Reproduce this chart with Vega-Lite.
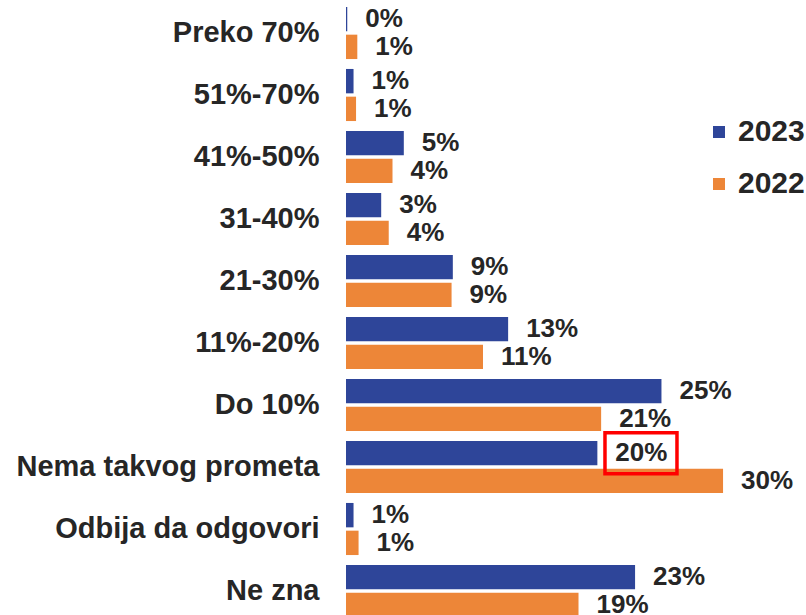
{
  "$schema": "https://vega.github.io/schema/vega-lite/v6.json",
  "autosize": {"type": "none"},
  "padding": {"top": 2, "left": 346, "right": 0, "bottom": 0},
  "width": 460,
  "height": 620,
  "background": "white",
  "config": {
    "view": {"stroke": null},
    "font": "Liberation Sans"
  },
  "data": {
    "values": [
      {"cat": "Preko 70%", "year": "2023", "value": 0.1, "label": "0%"},
      {"cat": "Preko 70%", "year": "2022", "value": 0.9, "label": "1%"},
      {"cat": "51%-70%", "year": "2023", "value": 0.6, "label": "1%"},
      {"cat": "51%-70%", "year": "2022", "value": 0.8, "label": "1%"},
      {"cat": "41%-50%", "year": "2023", "value": 4.6, "label": "5%"},
      {"cat": "41%-50%", "year": "2022", "value": 3.7, "label": "4%"},
      {"cat": "31-40%", "year": "2023", "value": 2.8, "label": "3%"},
      {"cat": "31-40%", "year": "2022", "value": 3.4, "label": "4%"},
      {"cat": "21-30%", "year": "2023", "value": 8.5, "label": "9%"},
      {"cat": "21-30%", "year": "2022", "value": 8.4, "label": "9%"},
      {"cat": "11%-20%", "year": "2023", "value": 12.9, "label": "13%"},
      {"cat": "11%-20%", "year": "2022", "value": 10.9, "label": "11%"},
      {"cat": "Do 10%", "year": "2023", "value": 25.1, "label": "25%"},
      {"cat": "Do 10%", "year": "2022", "value": 20.3, "label": "21%"},
      {"cat": "Nema takvog prometa", "year": "2023", "value": 20.0, "label": "20%"},
      {"cat": "Nema takvog prometa", "year": "2022", "value": 30.0, "label": "30%"},
      {"cat": "Odbija da odgovori", "year": "2023", "value": 0.6, "label": "1%"},
      {"cat": "Odbija da odgovori", "year": "2022", "value": 1.0, "label": "1%"},
      {"cat": "Ne zna", "year": "2023", "value": 23.0, "label": "23%"},
      {"cat": "Ne zna", "year": "2022", "value": 18.5, "label": "19%"}
    ]
  },
  "encoding": {
    "y": {
      "field": "cat", "type": "nominal",
      "sort": ["Preko 70%", "51%-70%", "41%-50%", "31-40%", "21-30%", "11%-20%", "Do 10%", "Nema takvog prometa", "Odbija da odgovori", "Ne zna"],
      "scale": {"paddingInner": 0.16, "paddingOuter": 0.08},
      "axis": {
        "title": null, "domain": false, "ticks": false,
        "labelFontSize": 29, "labelFontWeight": "bold", "labelColor": "#262626",
        "labelPadding": 27, "labelFont": "Liberation Sans", "labelLimit": 400
      }
    },
    "yOffset": {
      "field": "year", "type": "nominal",
      "scale": {"domain": ["2023", "2022"], "paddingInner": 0.12}
    }
  },
  "layer": [
    {
      "mark": {"type": "bar"},
      "encoding": {
        "x": {"field": "value", "type": "quantitative", "scale": {"domain": [0, 36.6], "nice": false}, "axis": null},
        "color": {
          "field": "year", "type": "nominal",
          "scale": {"domain": ["2023", "2022"], "range": ["#2E4599", "#ED8638"]},
          "legend": {
            "title": null, "orient": "none", "legendX": 358, "legendY": 115,
            "symbolType": "square", "symbolSize": 144, "symbolStrokeWidth": 0,
            "labelFontSize": 30, "labelFontWeight": "bold", "labelColor": "#262626",
            "labelFont": "Liberation Sans", "rowPadding": 22, "labelOffset": 4
          }
        }
      }
    },
    {
      "mark": {"type": "text", "align": "left", "baseline": "middle", "dx": 18, "fontSize": 26, "fontWeight": "bold", "color": "#262626", "font": "Liberation Sans"},
      "encoding": {
        "x": {"field": "value", "type": "quantitative"},
        "text": {"field": "label"}
      }
    },
    {
      "data": {"values": [{"cat": "Nema takvog prometa", "year": "2023", "xc": 23.47}]},
      "mark": {"type": "point", "filled": false, "opacity": 1, "stroke": "#FF0000", "strokeWidth": 3.5, "size": 5184, "shape": "M-1,-0.569H1V0.569H-1Z"},
      "encoding": {
        "x": {"field": "xc", "type": "quantitative"}
      }
    }
  ]
}
